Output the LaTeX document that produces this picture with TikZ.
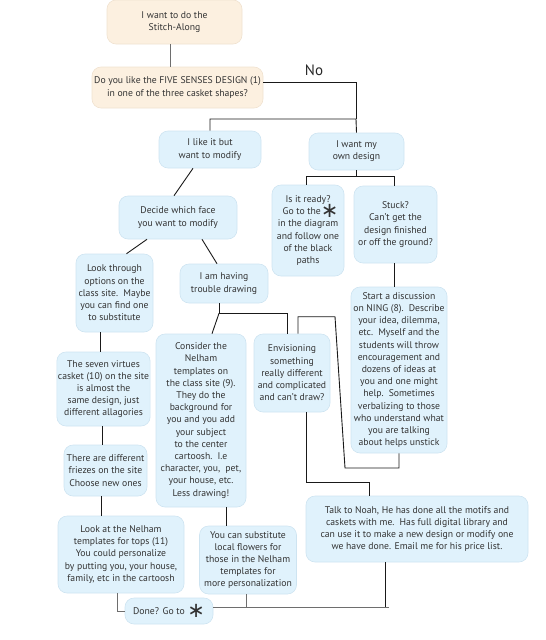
\documentclass[tikz,border=0pt]{standalone}
\usepackage{fontspec}
\setmainfont{PT Sans}
\newfontfamily\symfont{DejaVu Sans}
\usetikzlibrary{positioning}
\definecolor{boxblue}{RGB}{224,242,252}
\definecolor{boxedge}{RGB}{206,228,241}
\definecolor{peach}{RGB}{252,240,224}
\definecolor{peachedge}{RGB}{240,226,208}
\definecolor{linegray}{RGB}{110,110,110}
\newcommand{\goast}{\smash{\raisebox{-3pt}{\symfont\fontsize{21}{21}\selectfont ∗}}}
\tikzset{
	box/.style={draw=boxedge, line width=0.6pt, fill=boxblue, rounded corners=9pt,
		align=center, inner sep=1pt, text=black!80,
		font=\fontsize{9.7}{12.2}\selectfont},
	peachbox/.style={box, draw=peachedge, fill=peach},
	link/.style={draw=black!90, line width=0.9pt},
	greylink/.style={draw=linegray, line width=1pt},
}

\begin{document}
\begin{tikzpicture}[x=1pt, y=-1pt]
        \useasboundingbox (0,0) rectangle (546,640);
        \node[peachbox, minimum width=135pt, minimum height=44pt] (stitch) at (174.5,22) {I want to do the\\Stitch-Along};
        \node[peachbox, minimum width=171pt, minimum height=41pt] (five) at (177.5,87.5) {Do you like the FIVE SENSES DESIGN (1)\\in one of the three casket shapes?};
        \node[font=\fontsize{15}{15}\selectfont, text=black!85] (no) at (314,70) {No};
        \node[box, minimum width=102pt, minimum height=37pt] (like) at (210,149.5) {I like it but\\want to modify};
        \node[box, minimum width=95pt, minimum height=37pt] (own) at (356.5,151.5) {I want my\\own design};
        \node[box, minimum width=72pt, minimum height=91pt] (ready) at (308,230.5) {Is it ready?\\\ \ Go to the\goast\\in the diagram\\and follow one\\of the black\\paths};
        \node[box, minimum width=83pt, minimum height=77pt] (stuck) at (395.5,224.5) {Stuck?\\Can't get the\\design finished\\or off the ground?};
        \node[box, minimum width=118pt, minimum height=43pt] (decide) at (178,217.5) {Decide which face\\you want to modify};
        \node[box, minimum width=77pt, minimum height=78pt] (look) at (114.5,293) {Look through\\options on the\\class site.\ \ Maybe\\you can find one\\to substitute};
        \node[box, minimum width=88pt, minimum height=39pt] (trouble) at (224,283.5) {I am having\\trouble drawing};
        \node[box, minimum width=96pt, minimum height=166pt] (ning) at (399,370) {Start a discussion\\on NING (8).\ \ Describe\\your idea, dilemma,\\etc.\ \ Myself and the\\students will throw\\encouragement and\\dozens of ideas at\\you and one might\\help.\ \ Sometimes\\verbalizing to those\\who understand what\\you are talking\\about helps unstick};
        \node[box, minimum width=93pt, minimum height=74pt] (virtues) at (103.5,389) {The seven virtues\\casket (10) on the site\\is almost the\\same design, just\\different allagories};
        \node[box, minimum width=90pt, minimum height=173pt] (consider) at (201,420.5) {Consider the\\Nelham\\templates on\\the class site (9).\\They do the\\background for\\you and you add\\your subject\\to the center\\cartoosh.\ \ I.e\\character, you,\ \ pet,\\your house, etc.\\Less drawing!};
        \node[box, minimum width=76pt, minimum height=78pt] (envision) at (292,373) {Envisioning\\something\\really different\\and complicated\\and can't draw?};
        \node[box, minimum width=83pt, minimum height=51pt] (friezes) at (105.5,470.5) {There are different\\friezes on the site\\Choose new ones};
        \node[box, minimum width=126pt, minimum height=77pt] (tops) at (121,554.5) {Look at the Nelham\\templates for tops (11)\\You could personalize\\by putting you, your house,\\family, etc in the cartoosh};
        \node[box, minimum width=97pt, minimum height=68pt] (substitute) at (248,560) {You can substitute\\local flowers for\\those in the Nelham\\templates for\\more personalization};
        \node[box, minimum width=222pt, minimum height=66pt] (noah) at (417,529) {Talk to Noah, He has done all the motifs and\\caskets with me.\ \ Has full digital library and\\can use it to make a new design or modify one\\we have done. Email me for his price list.};
        \node[box, minimum width=88pt, minimum height=26pt] (done) at (169,611) {Done? Go to \goast};

        \coordinate (split) at (356,119);
        \coordinate (bend) at (345,468);
        \coordinate (doneend) at (389,607);

        \draw[greylink] ([xshift=-4pt]stitch.south) -- ([xshift=-4pt]stitch.south |- five.north);
        \draw[link] ([yshift=5.5pt]five.east) -| (split);
        \draw[link] (like.north) |- (split) -- (own.north);
        \draw[link] ([xshift=-17pt]like.south) -- ([xshift=-4pt]decide.north);
        \draw[link] (own.south) -- ++(0,6) coordinate (ownfork);
        \draw[link] ([xshift=-2pt]ready.north) |- (ownfork) -| ([xshift=-1.5pt]stuck.north);
        \draw[link] ([xshift=-1.5pt]stuck.south) -- ([xshift=-1.5pt]stuck.south |- ning.north);
        \draw[link] ([xshift=-31pt]decide.south) -- ([xshift=12pt]look.north);
        \draw[link] ([xshift=24pt]decide.south) -- ([xshift=-7pt]trouble.north);
        \draw[link] ([xshift=-14pt]look.south) -- ([xshift=-14pt]look.south |- virtues.north);
        \draw[link] ([xshift=-1.5pt]virtues.south) -- ([xshift=-1.5pt]virtues.south |- friezes.north);
        \draw[link] ([xshift=-4.5pt]friezes.south) -- ([xshift=-4.5pt]friezes.south |- tops.north);
        \draw[link] ([xshift=-5pt]trouble.south) -- ++(0,10) coordinate (troublefork);
        \draw[link] (troublefork) -- ([xshift=11pt]consider.north);
        \draw[link] (troublefork) -| ([xshift=-5pt]envision.north);
        \draw[link] ([xshift=6pt]envision.north) -- ++(0,-17) -- ++(37,0) -- (bend) -| (ning.south);
        \draw[link] ([xshift=14pt]envision.south) -- ++(0,70) -| ([xshift=-48pt]noah.north);
        \draw[link] ([xshift=25pt]consider.south) -- ([xshift=25pt]consider.south |- substitute.north);
        \draw[greylink] ([xshift=-4pt]tops.south) |- (done.west);
        \draw[greylink] ([yshift=4pt]done.east) -- (doneend);
        \draw[greylink] ([xshift=-2pt]substitute.south) -- ([xshift=-2pt]substitute.south |- doneend);
        \draw[link] ([xshift=-32pt]noah.south) -- ([xshift=-32pt]noah.south |- doneend);
\end{tikzpicture}
\end{document}
